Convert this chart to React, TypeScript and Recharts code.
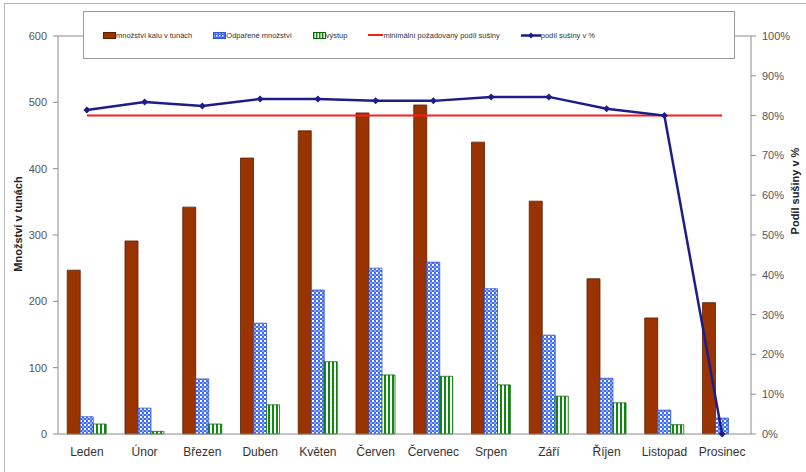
import React from "react";
import { Bar, ComposedChart, Line, ReferenceLine, XAxis, YAxis } from "recharts";

// months of the year
const months = ["Leden", "Únor", "Březen", "Duben", "Květen", "Červen", "Červenec", "Srpen", "Září", "Říjen", "Listopad", "Prosinec"];

// tonnes
const sludge = [247, 291, 342, 416, 457, 484, 496, 440, 351, 234, 175, 198];
const evaporated = [26, 39, 83, 167, 217, 250, 259, 219, 149, 84, 36, 24];
const output = [15, 4, 15, 44, 109, 89, 87, 74, 57, 47, 14, 0];

// percent of dry matter
const dryMatter = [81.4, 83.4, 82.4, 84.2, 84.2, 83.7, 83.7, 84.7, 84.7, 81.7, 80, 0];
const minDryMatter = [80, 80, 80, 80, 80, 80, 80, 80, 80, 80, 80, 80];

const leftTicks = [0, 100, 200, 300, 400, 500, 600];
const rightTicks = [0, 10, 20, 30, 40, 50, 60, 70, 80, 90, 100];

const data = months.map((m, i) => ({
  month: m,
  sludge: sludge[i],
  evaporated: evaporated[i],
  output: output[i],
  dry: dryMatter[i],
  minDry: minDryMatter[i],
}));

const FONT = "'Liberation Sans', Arial, sans-serif";
const AXIS = "#8c8c8c";
const NAVY = "#1c1c8a";

const Diamond = (props: any) => {
  const { cx, cy } = props;
  if (cx == null || cy == null) return null;
  return <path d={`M${cx},${cy - 3.5} L${cx + 3.5},${cy} L${cx},${cy + 3.5} L${cx - 3.5},${cy} Z`} fill={NAVY} />;
};

const AxisTitle = ({ viewBox, value, dx, dy }: any) => {
  const x = viewBox.x + dx;
  const y = viewBox.y + viewBox.height / 2 + dy;
  return (
    <text x={x} y={y} transform={`rotate(-90 ${x} ${y})`} textAnchor="middle" fontFamily={FONT} fontSize={11} fontWeight="bold" fill="#222">
      {value}
    </text>
  );
};

function Swatch({ kind }: { kind: string }) {
  if (kind === "line-red") return <span style={{ width: 15, height: 2, background: "#ff1a1a", display: "inline-block" }} />;
  if (kind === "line-blue")
    return (
      <svg width={20} height={7} style={{ display: "block" }}>
        <line x1={0} y1={3.5} x2={20} y2={3.5} stroke={NAVY} strokeWidth={2.5} />
        <path d="M10,0.5 L13,3.5 L10,6.5 L7,3.5 Z" fill={NAVY} />
      </svg>
    );
  const fill = kind === "brown" ? "#993300" : kind === "blue" ? "url(#lgChecker)" : "url(#lgStripes)";
  const stroke = kind === "brown" ? "#5a1e00" : kind === "blue" ? "#2f55d0" : "#0b6b0b";
  return (
    <svg width={13} height={7} style={{ display: "block" }}>
      <defs>
        <pattern id="lgChecker" width={3} height={3} patternUnits="userSpaceOnUse">
          <rect width={3} height={3} fill="#3d6cf0" />
          <rect x={0} y={0} width={1.5} height={1.5} fill="#fff" />
        </pattern>
        <pattern id="lgStripes" width={3} height={3} patternUnits="userSpaceOnUse">
          <rect width={3} height={3} fill="#fff" />
          <rect width={1.5} height={3} fill="#0e8a0e" />
        </pattern>
      </defs>
      <rect x={0.5} y={0.5} width={12} height={6} fill={fill} stroke={stroke} strokeWidth={1} />
    </svg>
  );
}

const legendItems = [
  { kind: "brown", text: "množství kalu v tunách" },
  { kind: "blue", text: "Odpařené množství" },
  { kind: "green", text: "výstup" },
  { kind: "line-red", text: "minimální požadovaný podíl sušiny" },
  { kind: "line-blue", text: "podíl sušiny v %" },
];

export default function App() {
  return (
    <div style={{ position: "relative", width: 806, height: 472, overflow: "hidden", background: "#fff", fontFamily: FONT }}>
      <style>{`body{margin:0}`}</style>
      <div style={{ position: "absolute", left: 4, top: 3, width: 820, height: 490, border: "1px solid #b8b8b8" }} />
      <ComposedChart
        width={806}
        height={472}
        data={data}
        margin={{ top: 36, right: 0, bottom: 0, left: 0 }}
        barCategoryGap="16%"
        barGap={0}
        style={{ position: "absolute", left: 0, top: 0 }}
      >
        <defs>
          <pattern id="checker" width={4} height={4} patternUnits="userSpaceOnUse">
            <rect width={4} height={4} fill="#3d6cf0" />
            <rect x={0} y={0} width={2} height={2} fill="#ffffff" />
            <rect x={2} y={2} width={2} height={2} fill="#8aa6ff" />
          </pattern>
          <pattern id="stripes" width={4} height={4} patternUnits="userSpaceOnUse">
            <rect width={4} height={4} fill="#ffffff" />
            <rect width={2} height={4} fill="#0e8a0e" />
          </pattern>
        </defs>
        <XAxis
          dataKey="month"
          yAxisId="left"
          height={38}
          stroke={AXIS}
          tickLine={false}
          tickMargin={7}
          tick={{ fontFamily: FONT, fontSize: 12, fill: "#333" }}
          interval={0}
        />
        <YAxis
          yAxisId="left"
          width={58}
          domain={[0, 600]}
          ticks={leftTicks}
          stroke={AXIS}
          tickSize={5}
          tickMargin={6}
          tick={{ fontFamily: FONT, fontSize: 11, fill: "#555" }}
          label={<AxisTitle value="Množství v tunách" dx={22} dy={-11} />}
        />
        <YAxis
          yAxisId="right"
          orientation="right"
          width={55}
          domain={[0, 100]}
          ticks={rightTicks}
          stroke={AXIS}
          tickSize={5}
          tickMargin={6}
          tickFormatter={(v) => `${v}%`}
          tick={{ fontFamily: FONT, fontSize: 11, fill: "#555" }}
          label={<AxisTitle value="Podíl sušiny v %" dx={48} dy={-44} />}
        />
        <ReferenceLine yAxisId="left" y={600} stroke={AXIS} />
        <Bar yAxisId="left" dataKey="sludge" fill="#993300" stroke="#5a1e00" strokeWidth={0.8} isAnimationActive={false} />
        <Bar yAxisId="left" dataKey="evaporated" fill="url(#checker)" stroke="#2f55d0" strokeWidth={0.8} isAnimationActive={false} />
        <Bar yAxisId="left" dataKey="output" fill="url(#stripes)" stroke="#0b6b0b" strokeWidth={0.8} isAnimationActive={false} />
        <Line yAxisId="right" dataKey="minDry" stroke="#ff1a1a" strokeWidth={2} dot={false} isAnimationActive={false} />
        <Line yAxisId="right" dataKey="dry" stroke={NAVY} strokeWidth={2.5} dot={<Diamond />} activeDot={false} isAnimationActive={false} />
      </ComposedChart>
      <div
        style={{
          position: "absolute",
          left: 83,
          top: 11,
          width: 652,
          height: 48,
          border: "1px solid #9a9a9a",
          background: "#fff",
          display: "flex",
          alignItems: "center",
          gap: 21,
          paddingLeft: 19,
          boxSizing: "border-box",
          fontSize: 7.5,
          color: "#333",
        }}
      >
        {legendItems.map((it) => (
          <div key={it.text} style={{ display: "flex", alignItems: "center", whiteSpace: "nowrap" }}>
            <Swatch kind={it.kind} />
            <span>{it.text}</span>
          </div>
        ))}
      </div>
    </div>
  );
}
